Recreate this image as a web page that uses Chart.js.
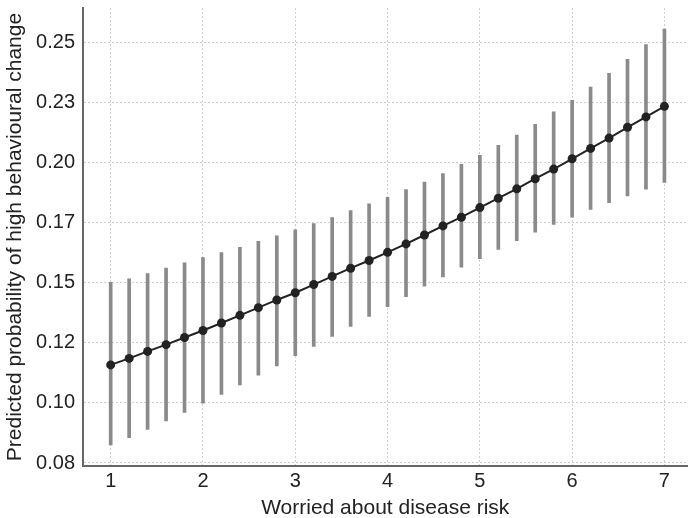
<!DOCTYPE html>
<html>
<head>
<meta charset="utf-8">
<script src="https://cdn.jsdelivr.net/npm/chart.js@4.4.0/dist/chart.umd.min.js"></script>
<style>
  body { margin: 0; background: #fff; }
  #wrap { width: 692px; height: 518px; }
</style>
</head>
<body>
<div id="wrap"><canvas id="myChart" width="692" height="518"></canvas></div>
<script>
const worried = [1, 1.2, 1.4, 1.6, 1.8, 2, 2.2, 2.4, 2.6, 2.8, 3, 3.2, 3.4, 3.6, 3.8, 4,
  4.2, 4.4, 4.6, 4.8, 5, 5.2, 5.4, 5.6, 5.8, 6, 6.2, 6.4, 6.6, 6.8, 7];
const predicted = [0.1158, 0.1185, 0.1214, 0.1242, 0.1272, 0.1301, 0.1332, 0.1364, 0.1396, 0.1428,
  0.1458, 0.1492, 0.1526, 0.1560, 0.1592, 0.1626, 0.1661, 0.1698, 0.1736, 0.1772, 0.1812,
  0.1851, 0.1890, 0.1932, 0.1972, 0.2015, 0.2058, 0.2101, 0.2146, 0.2189, 0.2233];
const upper = [0.1501, 0.1516, 0.1538, 0.1560, 0.1582, 0.1604, 0.1625, 0.1647, 0.1672, 0.1695,
  0.1720, 0.1746, 0.1771, 0.1800, 0.1828, 0.1855, 0.1887, 0.1918, 0.1953, 0.1992, 0.2029,
  0.2071, 0.2114, 0.2158, 0.2210, 0.2258, 0.2313, 0.2370, 0.2429, 0.2490, 0.2554];
const lower = [0.0825, 0.0855, 0.0890, 0.0925, 0.0960, 0.0999, 0.1035, 0.1075, 0.1115, 0.1154,
  0.1196, 0.1235, 0.1276, 0.1318, 0.1360, 0.1400, 0.1442, 0.1485, 0.1524, 0.1564, 0.1600,
  0.1638, 0.1675, 0.1710, 0.1742, 0.1772, 0.1804, 0.1833, 0.1861, 0.1889, 0.1917];

const xTicks = [1, 2, 3, 4, 5, 6, 7];
const yTicks = [0.075, 0.1, 0.125, 0.15, 0.175, 0.2, 0.225, 0.25];
const yTickLabels = ["0.08", "0.10", "0.12", "0.15", "0.17", "0.20", "0.23", "0.25"];

const tickFont = { family: "'Liberation Sans', Arial, sans-serif", size: 20 };
const titleFont = { family: "'Liberation Sans', Arial, sans-serif", size: 21 };

const ctx = document.getElementById("myChart");

new Chart(ctx, {
  type: "line",
  data: {
    datasets: [
      {
        type: "line",
        label: "Predicted",
        data: worried.map((x, i) => ({ x: x, y: predicted[i] })),
        borderColor: "#222",
        borderWidth: 2,
        pointRadius: 4.5,
        pointBackgroundColor: "#222",
        pointBorderColor: "#222",
        pointBorderWidth: 0,
        order: 1,
      },
      {
        type: "bar",
        label: "CI",
        data: worried.map((x, i) => ({ x: x, y: [lower[i], upper[i]] })),
        backgroundColor: "#8a8a8a",
        borderWidth: 0,
        barThickness: 3,
        grouped: false,
        order: 2,
      },
    ],
  },
  options: {
    responsive: false,
    animation: false,
    layout: { padding: { top: 8, right: 1, left: 0, bottom: 0 } },
    plugins: {
      legend: { display: false },
      tooltip: { enabled: false },
    },
    scales: {
      x: {
        type: "linear",
        min: 0.7,
        max: 7.25,
        offset: false,
        afterBuildTicks: (scale) => {
          scale.ticks = xTicks.map((v) => ({ value: v }));
        },
        afterFit: (scale) => {
          scale.height = 52;
          scale.paddingLeft = 0;
          scale.paddingRight = 0;
        },
        ticks: { font: tickFont, color: "#222", padding: 3, maxRotation: 0 },
        grid: { color: "#cfcfcf", lineWidth: 1, drawTicks: false, offset: false },
        border: { color: "#666", width: 2, dash: [2, 2] },
        title: {
          display: true,
          text: "Worried about disease risk",
          font: titleFont,
          color: "#222",
          padding: { top: 0, bottom: -3 },
        },
      },
      y: {
        type: "linear",
        min: 0.07375,
        max: 0.2642,
        afterBuildTicks: (scale) => {
          scale.ticks = yTicks.map((v) => ({ value: v }));
        },
        afterFit: (scale) => {
          scale.width = 83;
          scale.paddingTop = 0;
          scale.paddingBottom = 0;
        },
        ticks: {
          font: tickFont,
          color: "#222",
          padding: 8,
          callback: (value) => {
            const i = yTicks.findIndex((t) => Math.abs(t - value) < 1e-6);
            return i >= 0 ? yTickLabels[i] : "";
          },
        },
        grid: { color: "#cfcfcf", lineWidth: 1, drawTicks: false },
        border: { color: "#666", width: 2, dash: [2, 2] },
        title: {
          display: true,
          text: "Predicted probability of high behavioural change",
          font: titleFont,
          color: "#222",
          padding: { top: 3, bottom: 0 },
        },
      },
    },
  },
});
</script>
</body>
</html>
